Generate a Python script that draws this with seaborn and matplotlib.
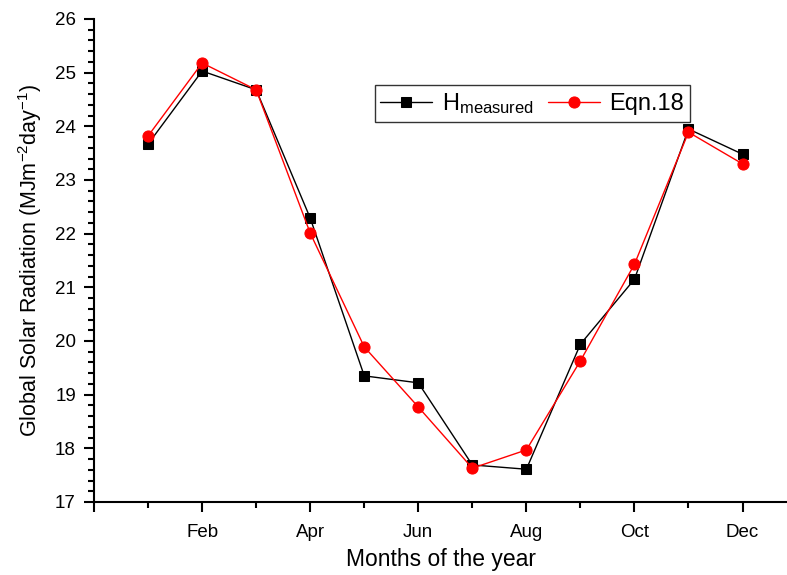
import numpy as np
import pandas as pd
import matplotlib
matplotlib.use("Agg")
import matplotlib.pyplot as plt
import seaborn as sns

sns.set_style("ticks")
plt.rcParams['font.family'] = ['Liberation Sans', 'DejaVu Sans']
plt.rcParams['mathtext.fontset'] = 'custom'
plt.rcParams['mathtext.rm'] = 'Liberation Sans'
plt.rcParams['mathtext.it'] = 'Liberation Sans'
plt.rcParams['text.color'] = 'black'
plt.rcParams['axes.labelcolor'] = 'black'

months = np.arange(1, 13)
h_measured = [23.67, 25.03, 24.68, 22.29, 19.35, 19.22, 17.69, 17.61, 19.94, 21.15, 23.95, 23.48]
eqn18 = [23.82, 25.18, 24.68, 22.01, 19.89, 18.77, 17.63, 17.97, 19.63, 21.43, 23.89, 23.30]
tick_pos = [0, 2, 4, 6, 8, 10, 12]
tick_labels = ['', 'Feb', 'Apr', 'Jun', 'Aug', 'Oct', 'Dec']

df = pd.DataFrame({'Month': months, 'H': h_measured, 'Eqn': eqn18})

fig = plt.figure(figsize=(7.87, 5.75), dpi=100)
ax = fig.add_axes([0.1195, 0.127, 0.881, 0.840])

sns.lineplot(data=df, x='Month', y='H', ax=ax, color='black', linewidth=1,
             marker='s', markersize=7, markeredgecolor='black', label=r'H$_{measured}$')
sns.lineplot(data=df, x='Month', y='Eqn', ax=ax, color='red', linewidth=1,
             marker='o', markersize=8, markeredgecolor='red', label='Eqn.18')

ax.set_xlim(0, 12.83)
ax.set_ylim(17, 26)
ax.set_xticks(tick_pos)
ax.set_xticklabels(tick_labels)
ax.set_xticks([1, 3, 5, 7, 9, 11], minor=True)
ax.set_yticks(np.arange(17, 27, 1))
ax.set_yticks(np.arange(17, 26.01, 0.2), minor=True)
ax.tick_params(axis='both', which='major', direction='out', length=7, width=1.5,
               labelsize=13.5, colors='black')
ax.tick_params(axis='x', which='major', pad=9)
ax.tick_params(axis='y', which='major', pad=6)
ax.tick_params(axis='both', which='minor', direction='out', length=4, width=1.5, colors='black')
for s in ['left', 'bottom']:
    ax.spines[s].set_linewidth(1.5)
    ax.spines[s].set_color('black')
sns.despine(ax=ax)

ax.set_xlabel('Months of the year', fontsize=16.5, labelpad=5)
ax.set_ylabel(r'Global Solar Radiation (MJm$^{-2}$day$^{-1}$)', fontsize=15.5, labelpad=8)

leg = ax.legend(loc='upper center', bbox_to_anchor=(0.632, 0.888), ncol=2, fontsize=17,
                frameon=True, fancybox=False, edgecolor='black', handlelength=2.2,
                columnspacing=0.6, handletextpad=0.4, borderpad=0.25)
leg.get_frame().set_linewidth(1)

fig.savefig('out.png', dpi=100)
